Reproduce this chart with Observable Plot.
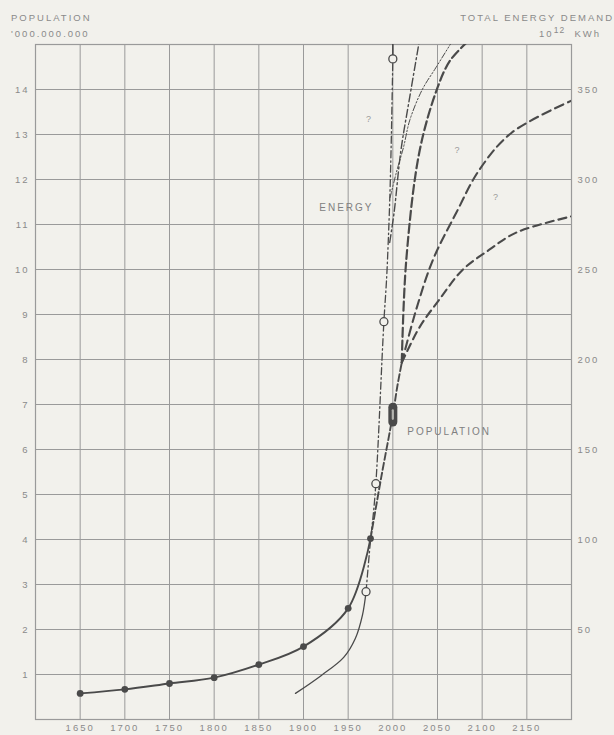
<!DOCTYPE html>
<html>
<head>
<meta charset="utf-8">
<script src="https://cdn.jsdelivr.net/npm/d3@7"></script>
<script src="https://cdn.jsdelivr.net/npm/@observablehq/plot@0.6"></script>
<style>
  html, body { margin: 0; padding: 0; background: #f2f1ec; }
  #wrap { position: relative; width: 614px; height: 735px; overflow: hidden;
          font-family: "Liberation Sans", Arial, sans-serif; color: #8a8a8a;
          letter-spacing: 2px; font-size: 9.5px; }
  #wrap svg { position: absolute; left: 0; top: 0; }
  .hd { position: absolute; white-space: nowrap; line-height: 1; z-index: 2; }
  .sup { position: relative; top: -4px; font-size: 8.5px; letter-spacing: 1px; }
</style>
</head>
<body>
<div id="wrap">
  <div class="hd" style="left:11px;top:12.5px">POPULATION</div>
  <div class="hd" style="left:11px;top:28.5px">'000.000.000</div>
  <div class="hd" style="right:0px;top:12.5px">TOTAL ENERGY DEMAND</div>
  <div class="hd" style="right:13px;top:28.5px">10<span class="sup">12</span>&nbsp;&nbsp;KWh</div>
</div>
<script>
// ---------- data (population in '000.000.000, energy in 10^12 kWh) ----------
const xTicks = [1650, 1700, 1750, 1800, 1850, 1900, 1950, 2000, 2050, 2100, 2150];
const yTicks = [1, 2, 3, 4, 5, 6, 7, 8, 9, 10, 11, 12, 13, 14];
const energyTicks = [50, 100, 150, 200, 250, 300, 350];
const ENERGY_PER_POP_UNIT = 25; // right axis: 25 x 10^12 kWh per left-axis unit

// population, observed (solid, dots)
const popYears  = [1650, 1700, 1750, 1800, 1850, 1900, 1950, 1975];
const popValues = [0.58, 0.67, 0.80, 0.93, 1.22, 1.62, 2.47, 4.02];
// population, trend to the branching point (dashed)
const popTrendYears  = [1975, 1987, 2000, 2005, 2010];
const popTrendValues = [4.02, 5.38, 6.77, 7.40, 7.93];
// population scenarios (dashed)
const popHighYears  = [2010, 2015, 2030, 2050, 2064, 2083];
const popHighValues = [7.93, 10.2, 12.64, 14.04, 14.64, 15.05];
const popMidYears   = [2010, 2026, 2045, 2071, 2097, 2133, 2200];
const popMidValues  = [7.93, 9.10, 10.22, 11.26, 12.22, 13.04, 13.75];
const popLowYears   = [2010, 2030, 2052, 2078, 2108, 2138, 2200];
const popLowValues  = [7.93, 8.72, 9.33, 9.99, 10.44, 10.82, 11.18];
// population marker around 2000
const popMarker = [{year: 2000, low: 6.60, high: 6.93}];

// energy demand, observed (thin solid)
const energyYears  = [1891, 1920, 1945, 1958, 1966, 1970];
const energyValues = [14.5, 24.5, 34.5, 45.0, 58.0, 71.0];
// energy demand, trend (dash-dot) and beyond
const energyTrendYears  = [1970, 1974, 1981, 1990, 1994, 1998, 2000];
const energyTrendValues = [71, 94, 131, 221, 255, 316, 367];
const energyTopYears  = [2000, 2000];
const energyTopValues = [367, 385];
// energy scenarios
const energyAYears  = [1996.5, 2001.5, 2009, 2019, 2030];
const energyAValues = [265, 282, 316, 346, 378];
const energyBYears  = [1997, 2004, 2012, 2019, 2033, 2048, 2068];
const energyBValues = [290, 304, 318, 333, 350, 362, 378];
// energy circles
const energyPointYears  = [1970, 1981, 1990, 2000];
const energyPointValues = [71, 131, 221, 367];

// question marks and labels
const questionMarks = [
  {year: 1974, pop: 13.35},
  {year: 2073, pop: 12.65},
  {year: 2116, pop: 11.6}
];
const seriesLabels = [
  {year: 1948, pop: 11.38, label: "ENERGY"},
  {year: 2063, pop: 6.40, label: "POPULATION"}
];

// ---------- build tables ----------
const zip = (xs, ys) => xs.map((x, i) => ({year: x, value: ys[i]}));
const popBase   = zip(popYears, popValues);
const popTrend  = zip(popTrendYears, popTrendValues);
const popHigh   = zip(popHighYears, popHighValues);
const popMid    = zip(popMidYears, popMidValues);
const popLow    = zip(popLowYears, popLowValues);
const enBase    = zip(energyYears, energyValues);
const enTrend   = zip(energyTrendYears, energyTrendValues);
const enTop     = zip(energyTopYears, energyTopValues);
const enA       = zip(energyAYears, energyAValues);
const enB       = zip(energyBYears, energyBValues);
const enPoints  = zip(energyPointYears, energyPointValues);

const INK = "#4a4a4a";
const GRID = "#9a9a9a";
const BG = "#f2f1ec";
const eY = d => d.value / ENERGY_PER_POP_UNIT;

const chart = Plot.plot({
  width: 614,
  height: 735,
  marginLeft: 35,
  marginRight: 43,
  marginTop: 44,
  marginBottom: 16,
  x: {domain: [1600, 2200]},
  y: {domain: [0, 15]},
  style: {
    background: "transparent",
    fontFamily: "'Liberation Sans', Arial, sans-serif",
    fontSize: "9.5px",
    color: "#8a8a8a",
    letterSpacing: "2px"
  },
  marks: [
    Plot.gridX(xTicks, {stroke: GRID, strokeOpacity: 1, strokeWidth: 1}),
    Plot.gridY(yTicks, {stroke: GRID, strokeOpacity: 1, strokeWidth: 1}),
    Plot.frame({stroke: GRID, strokeWidth: 1.2}),
    Plot.axisX(xTicks, {tickSize: 0, tickPadding: 5, label: null, tickFormat: d => `${d}`}),
    Plot.axisY(yTicks, {tickSize: 0, tickPadding: 6, label: null, tickFormat: d => `${d}`}),
    Plot.axisY(energyTicks.map(e => e / ENERGY_PER_POP_UNIT), {
      anchor: "right", tickSize: 0, tickPadding: 6, label: null,
      tickFormat: d => `${Math.round(d * ENERGY_PER_POP_UNIT)}`
    }),

    // energy
    Plot.line(enBase, {x: "year", y: eY, curve: "catmull-rom", stroke: INK, strokeWidth: 1.3}),
    Plot.line(enTrend, {x: "year", y: eY, curve: "monotone-x", stroke: INK, strokeWidth: 1.3,
      strokeDasharray: "7,3,1.5,3"}),
    Plot.line(enTop, {x: "year", y: eY, stroke: INK, strokeWidth: 1.6, clip: true}),
    Plot.line(enA, {x: "year", y: eY, curve: "catmull-rom", stroke: INK, strokeWidth: 1.4,
      strokeDasharray: "8,3,1.8,3", clip: true}),
    Plot.line(enB, {x: "year", y: eY, curve: "catmull-rom", stroke: INK, strokeWidth: 1.0,
      strokeDasharray: "6,2,1.5,2,1.5,2", clip: true}),

    // population
    Plot.line(popBase, {x: "year", y: "value", curve: "catmull-rom", stroke: INK, strokeWidth: 1.9}),
    Plot.line(popTrend, {x: "year", y: "value", curve: "catmull-rom", stroke: INK, strokeWidth: 1.9,
      strokeDasharray: "7,3"}),
    Plot.line(popHigh, {x: "year", y: "value", curve: "catmull-rom", stroke: INK, strokeWidth: 2.2,
      strokeDasharray: "9,4", clip: true}),
    Plot.line(popMid, {x: "year", y: "value", curve: "catmull-rom", stroke: INK, strokeWidth: 2.1,
      strokeDasharray: "9,5", clip: true}),
    Plot.line(popLow, {x: "year", y: "value", curve: "catmull-rom", stroke: INK, strokeWidth: 2.1,
      strokeDasharray: "8,5", clip: true}),

    Plot.dot(popBase, {x: "year", y: "value", r: 3.4, fill: INK}),
    Plot.ruleX(popMarker, {x: "year", y1: "low", y2: "high", stroke: INK, strokeWidth: 9,
      strokeLinecap: "round"}),
    Plot.ruleX(popMarker, {x: "year", y1: d => d.low + 0.07, y2: d => d.high - 0.07,
      stroke: "#b5b5b0", strokeWidth: 2.2, strokeLinecap: "round"}),
    Plot.dot(enPoints, {x: "year", y: eY, r: 4, fill: BG, stroke: INK, strokeWidth: 1.3}),

    Plot.text(questionMarks, {x: "year", y: "pop", text: () => "?", fontSize: 9, fill: "#9a9a9a"}),
    Plot.text(seriesLabels, {x: "year", y: "pop", text: "label", fontSize: 10, fill: "#808080"})
  ]
});
document.getElementById("wrap").appendChild(chart);
</script>
</body>
</html>
